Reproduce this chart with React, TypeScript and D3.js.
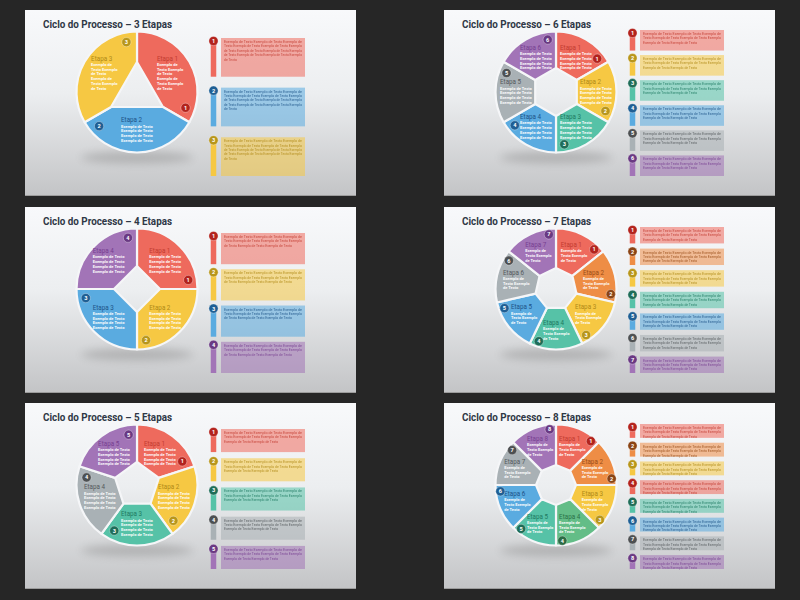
import React from "react";
import * as d3 from "d3";

// ---------- data ----------
const slideSteps = [3, 6, 4, 7, 5, 8];
const slideTitles = [
  "Ciclo do Processo – 3 Etapas",
  "Ciclo do Processo – 6 Etapas",
  "Ciclo do Processo – 4 Etapas",
  "Ciclo do Processo – 7 Etapas",
  "Ciclo do Processo – 5 Etapas",
  "Ciclo do Processo – 8 Etapas",
];
const segColors3 = ["red", "blue", "yellow"];
const segColors4 = ["red", "yellow", "blue", "purple"];
const segColors5 = ["red", "yellow", "teal", "gray", "purple"];
const segColors6 = ["red", "yellow", "teal", "blue", "gray", "purple"];
const segColors7 = ["red", "orange", "yellow", "teal", "blue", "gray", "purple"];
const segColors8 = ["red", "orange", "yellow", "green", "teal", "blue", "gray", "purple"];
const listColors8 = ["red", "orange", "yellow", "red", "teal", "blue", "gray", "purple"];
const segColorSets = [segColors3, segColors6, segColors4, segColors7, segColors5, segColors8];
const listColorSets = [segColors3, segColors6, segColors4, segColors7, segColors5, listColors8];

const stepWord = "Etapa";
const bodyWide = ["Exemplo de Texto", "Exemplo de Texto", "Exemplo de Texto", "Exemplo de Texto"];
const bodyNarrow = ["Exemplo de", "Texto Exemplo", "de Texto", "Exemplo de", "Texto Exemplo", "de Texto"];
const bodyShort = ["Exemplo de", "Texto Exemplo", "de Texto"];
const boxText5 = [
  "Exemplo de Texto Exemplo de Texto Exemplo de",
  "Texto Exemplo de Texto Exemplo de Texto Exemplo",
  "de Texto Exemplo de Texto Exemplo de Texto Exemplo",
  "de Texto Exemplo de Texto Exemplo de Texto Exemplo",
  "de Texto",
];
const boxText4 = [
  "Exemplo de Texto Exemplo de Texto Exemplo de",
  "Texto Exemplo de Texto Exemplo de Texto Exemplo",
  "de Texto Exemplo de Texto Exemplo de Texto",
];
const boxText3 = [
  "Exemplo de Texto Exemplo de Texto Exemplo de",
  "Texto Exemplo de Texto Exemplo de Texto Exemplo",
  "Exemplo de Texto Exemplo de Texto",
];

// ---------- styles / layout ----------
const palette: Record<string, { fill: string; dark: string; text: string }> = {
  red: { fill: "#ee6a5d", dark: "#b3231d", text: "#c23b30" },
  yellow: { fill: "#f6c843", dark: "#b8961b", text: "#b08a17" },
  blue: { fill: "#5aabe0", dark: "#1f5f94", text: "#1e5488" },
  purple: { fill: "#a274b7", dark: "#6a3983", text: "#773f91" },
  teal: { fill: "#56c2a7", dark: "#1f6d58", text: "#1f7a62" },
  gray: { fill: "#a9b1b5", dark: "#4d5052", text: "#555a5d" },
  orange: { fill: "#ee8d45", dark: "#8a4415", text: "#9a4d18" },
  green: { fill: "#63bd87", dark: "#2c6c45", text: "#2a7348" },
};
const FONT = "Roboto, 'Open Sans', sans-serif";
const colX = [25, 444];
const rowY = [10, 207, 403];
const SW = 331;
const SH = 186;
const CX = 112;
const CY = 82;
const R = 60.5;
const innerR: Record<number, number> = { 3: 30, 4: 23, 5: 23, 6: 24, 7: 21, 8: 20 };
const textR: Record<number, number> = { 3: 38, 4: 40, 5: 39, 6: 40, 7: 41, 8: 42 };
const badgeOff: Record<number, number> = { 3: 12, 4: 10, 5: 9.5, 6: 9, 7: 7.5, 8: 6.5 };
const badgeR: Record<number, number> = { 3: 51, 4: 52, 5: 51, 6: 53, 7: 55, 8: 56 };
const listTop: Record<number, number> = { 3: 28, 4: 26, 5: 26, 6: 20, 7: 20, 8: 21 };
const listPad: Record<number, number> = { 3: 0.22, 4: 0.14, 5: 0.21, 6: 0.18, 7: 0.24, 8: 0.26 };
const LIST_BOTTOM = 166;
const BOX_X0 = 196;
const BOX_X1 = 280;
const PIN_X = 188.5;

function polar(r: number, a: number): [number, number] {
  return [CX + r * Math.sin(a), CY - r * Math.cos(a)];
}

function segPath(rin: number, a0: number, a1: number) {
  const p = d3.path();
  const [x0, y0] = polar(R, a0);
  p.moveTo(x0, y0);
  p.arc(CX, CY, R, a0 - Math.PI / 2, a1 - Math.PI / 2, false);
  const [x1, y1] = polar(rin, a1);
  p.lineTo(x1, y1);
  const [x2, y2] = polar(rin, a0);
  p.lineTo(x2, y2);
  p.closePath();
  return p.toString();
}

function bodyFor(n: number, i: number) {
  if (n === 3) return i === 1 ? bodyWide : bodyNarrow;
  if (n >= 7) return bodyShort;
  return bodyWide;
}
function boxFor(n: number) {
  if (n === 3) return boxText5;
  if (n === 4) return boxText4;
  return boxText3;
}

function Slide({ idx }: { idx: number }) {
  const n = slideSteps[idx];
  const segs = segColorSets[idx];
  const lists = listColorSets[idx];
  const x = colX[idx % 2];
  const y = rowY[Math.floor(idx / 2)];
  const angle = d3.scaleLinear().domain([0, n]).range([0, 2 * Math.PI]);
  const rin = innerR[n];
  const band = d3
    .scaleBand<number>()
    .domain(d3.range(n))
    .range([listTop[n], LIST_BOTTOM])
    .paddingInner(listPad[n])
    .paddingOuter(0);
  const boxLines = boxFor(n);
  return (
    <g transform={`translate(${x},${y})`}>
      <rect width={SW} height={SH} fill="url(#slideBg)" />
      <rect x={0} y={SH - 1} width={SW} height={1} fill="#9c9c9c" />
      <text
        x={18}
        y={17.5}
        fontFamily={FONT}
        fontWeight={700}
        fontSize={11.5}
        fill="#2f3846"
        textLength={129}
        lengthAdjust="spacingAndGlyphs"
      >
        {slideTitles[idx]}
      </text>
      {/* shadow */}
      <ellipse cx={CX} cy={CY + R + 5} rx={56} ry={6} fill="#8a8a8a" opacity={0.45} filter="url(#blurS)" />
      {/* segments */}
      {segs.map((c, i) => (
        <path
          key={"s" + i}
          d={segPath(rin, angle(i), angle(i + 1))}
          fill={palette[c].fill}
          stroke="#f5f6f8"
          strokeWidth={2.2}
          strokeLinejoin="round"
        />
      ))}
      {/* segment texts */}
      {segs.map((c, i) => {
        const mid = (angle(i) + angle(i + 1)) / 2;
        const [ax, ay] = polar(textR[n], mid);
        const lines = bodyFor(n, i);
        const lh = 4.8;
        const hgt = 6.5 + lines.length * lh;
        const wid = d3.max(lines, (l) => l.length * 2) as number;
        const top = ay - hgt / 2;
        const x0 = ax - wid / 2;
        return (
          <g key={"t" + i} fontFamily={FONT}>
            <text x={x0} y={top + 5.2} fontSize={6.3} fill={palette[c].text}>
              {`${stepWord} ${i + 1}`}
            </text>
            {lines.map((l, j) => (
              <text key={j} x={x0} y={top + 6.5 + (j + 1) * lh - 0.9} fontSize={4} fontWeight={600} fill="#ffffff">
                {l}
              </text>
            ))}
          </g>
        );
      })}
      {/* badges */}
      {segs.map((c, i) => {
        const a = angle(i + 1) - (badgeOff[n] * Math.PI) / 180;
        const [bx, by] = polar(badgeR[n], a);
        return (
          <g key={"b" + i}>
            <circle cx={bx} cy={by} r={4.6} fill={palette[c].dark} stroke="#ffffff" strokeOpacity={0.55} strokeWidth={0.6} />
            <text x={bx} y={by + 2} textAnchor="middle" fontFamily={FONT} fontWeight={700} fontSize={5.6} fill="#ffffff">
              {i + 1}
            </text>
          </g>
        );
      })}
      {/* list */}
      {lists.map((c, i) => {
        const by = band(i) as number;
        const bh = band.bandwidth();
        const cy = by + 3;
        return (
          <g key={"l" + i}>
            <rect x={BOX_X0} y={by} width={BOX_X1 - BOX_X0} height={bh} fill={palette[c].fill} opacity={0.55} />
            <rect x={PIN_X - 2.75} y={cy} width={5.5} height={by + bh - cy} fill={palette[c].fill} />
            <circle cx={PIN_X} cy={cy} r={4.6} fill={palette[c].dark} stroke="#ffffff" strokeOpacity={0.55} strokeWidth={0.6} />
            <text x={PIN_X} y={cy + 2} textAnchor="middle" fontFamily={FONT} fontWeight={700} fontSize={5.6} fill="#ffffff">
              {i + 1}
            </text>
            {boxLines.map((l, j) => {
              const full = j < boxLines.length - 1;
              return (
                <text
                  key={j}
                  x={BOX_X0 + 3}
                  y={by + 5 + j * 4.4}
                  fontFamily={FONT}
                  fontSize={3.4}
                  fill={palette[c].text}
                  opacity={0.9}
                  {...(full ? { textLength: BOX_X1 - BOX_X0 - 6, lengthAdjust: "spacingAndGlyphs" } : {})}
                >
                  {l}
                </text>
              );
            })}
          </g>
        );
      })}
    </g>
  );
}

export default function App() {
  return (
    <div style={{ position: "fixed", left: 0, top: 0, width: 800, height: 600, background: "#262626" }}>
      <svg width={800} height={600} style={{ display: "block" }}>
        <defs>
          <linearGradient id="slideBg" x1="0" y1="0" x2="0" y2="1">
            <stop offset="0" stopColor="#f8f9fb" />
            <stop offset="0.45" stopColor="#eceef0" />
            <stop offset="1" stopColor="#c3c4c6" />
          </linearGradient>
          <filter id="blurS" x="-50%" y="-200%" width="200%" height="500%">
            <feGaussianBlur stdDeviation="4" />
          </filter>
        </defs>
        <rect width={800} height={600} fill="#262626" />
        {slideSteps.map((_, i) => (
          <Slide key={i} idx={i} />
        ))}
      </svg>
    </div>
  );
}
